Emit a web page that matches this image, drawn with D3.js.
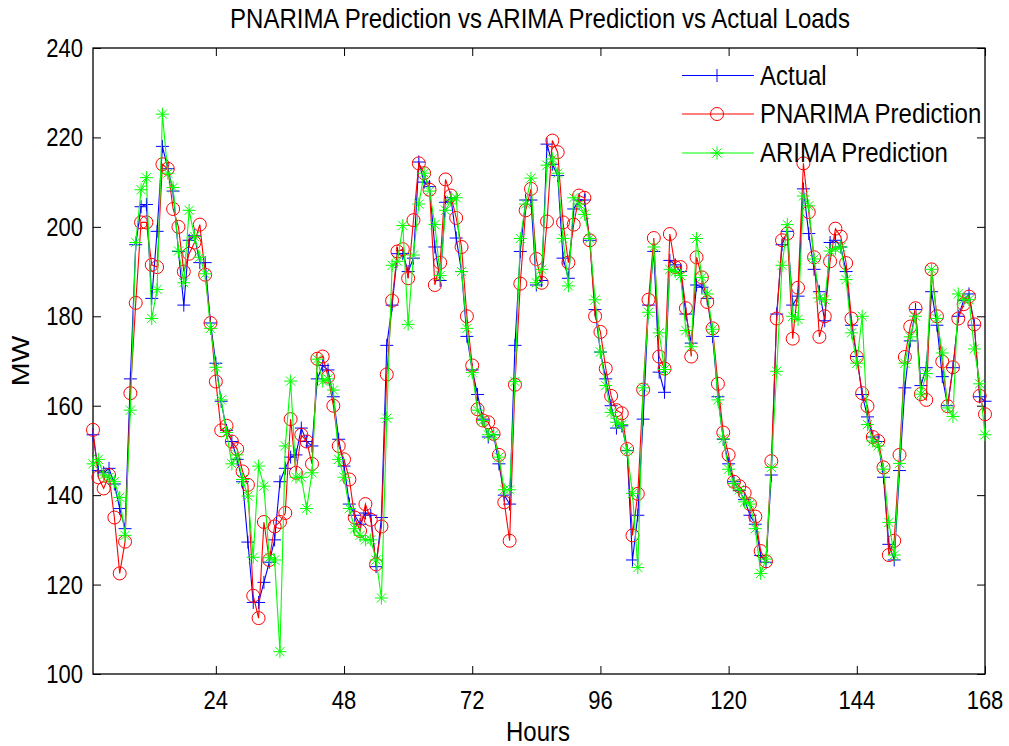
<!DOCTYPE html>
<html><head><meta charset="utf-8">
<script src="https://cdn.jsdelivr.net/npm/d3@7"></script>
<style>body{margin:0;background:#fff}svg text{font-family:"Liberation Sans",Arial,Helvetica,sans-serif;fill:#000}</style>
</head><body><svg id="c" width="1009" height="746"></svg>
<script>
const hours = d3.range(1, 169);
const actual = [
153.5,145.5,145,146,142.5,137,132.5,166,196,204.5,
205,184,199,218,213,208,194.5,182.5,197,198,
192,192,178.5,169.5,161,154.5,152,148,143,129.5,
116,116,120.5,125,130,143,146,148.5,149,155,
152,151,166,169,168,162,152.5,146.5,138,135.5,
133.5,136,135.5,124,135,173.5,182.5,194,194,190,
193,214.5,210,209,195.5,188,205.5,206.5,197.5,190,
175.5,168,162.5,157,153,153.5,147,140,138,173.5,
194.5,206,206,187,188,218.5,214,211.5,193,188.5,
204,206,206,197,181.5,172,166,160,155,155.5,
150,125.5,135.5,157,182.5,194.5,167.5,163,192.5,191.5,
190,180.5,174,187,186.5,184,175.5,162,152.5,147,
143,141,139,135.5,133.5,126.5,125,144.5,180.5,196,
199,182.5,184.5,208.5,198.5,190.5,185.5,179,196.5,197,
195.5,190,178,171,162.5,157.5,153,152,144,129,
125.5,145.5,164,174.5,181.5,164.5,168.5,185.5,178,166.5,
160,168.5,180,183.5,185,178,162,161];
const pnarima = [
154.6,144,141.5,144.5,135,122.5,129.6,162.8,183,201,
201,191.5,191,214,213,204,200,190,194,196.5,
200.5,189.3,178.5,165.4,154.5,155.5,152,150.3,145.3,142.3,
117.5,112.5,134,125.5,133,134,136,157,145,153.5,
152,147,170.5,171,166.5,160,151,148,143.5,135,
132,138,134.5,124.5,133,167,183.5,194.5,195,188.5,
201.5,214.2,212,208.3,187,192,210.6,207,202,195.5,
180,169,159.2,156.7,156.3,153.7,149,138.4,129.8,164.7,
187.3,203.7,208.5,192.8,187.5,201.2,219.3,216.7,201,192,
200.5,207,206.5,197,180,176.5,168.3,162.2,159,158.3,
150.3,131,140.3,163.6,183.7,197.5,171,168.3,198.4,191,
191,181.8,171,193.2,188.7,183.2,177.3,164.9,154,149,
143,142,140.5,138,135.2,127.5,125.2,147.6,179.5,197,
198.5,175,186.4,214.2,203.3,193.2,175.4,180,192.3,199.6,
197.8,191.9,179.5,170.9,162.8,159.9,153,152.1,146.2,126.6,
129.8,149,170.9,177.7,181.8,162.6,161.3,190.5,180,169.9,
159.9,168.6,179.5,182.7,184.4,178.2,162.2,158.1];
const arima = [
147,148,144.5,144,143,139.5,131,159,196.5,208.3,
211,179.5,186,225.2,212,208.8,194.6,187.5,203.7,197.8,
193.2,189.5,177.3,168.6,161.3,154,147,149,143.5,139.8,
126.1,146.5,142,126,125.5,105,151,165.5,144,144,
137,145,170.4,165.5,166,163.5,148,144,137,132.5,
131,130,130,125.5,117,157.2,191.4,192.3,200.3,178.2,
193.7,205.1,212,208,200.5,189.1,203.7,206,206.5,190,
177.3,167.4,159,156.7,153.5,153.5,148.5,141.2,141.2,165.4,
197.4,205.1,210.9,187.5,190.5,213.8,215.2,212,197.4,186.8,
206.5,205.1,202.8,197.4,183.7,172,164.5,158.5,156.3,155.8,
149.9,140.4,123.8,164,180.9,195.5,176.3,168.1,190.5,190,
189.1,176.8,173.2,197.4,188.7,185,177.1,161.3,152.6,145.8,
142.6,141.2,138.5,138,132.5,122.5,125.7,146.2,167.7,191.4,
200.5,180,179.3,206.9,204.7,192.8,184.1,183.7,194.6,195.1,
195.5,188.2,176.3,169.5,180,155.8,152.1,151,145.8,133.9,
126.6,147.1,169.5,175.4,180,162.6,167.2,190.5,179.5,171.8,
159.5,157.6,185,183.7,183.7,172.7,164.9,153.5];
const xTicks = [24, 48, 72, 96, 120, 144, 168];
const yTicks = [100, 120, 140, 160, 180, 200, 220, 240];
const seriesNames = ["Actual", "PNARIMA Prediction", "ARIMA Prediction"];
const seriesColors = ["#0000ff", "#ff0000", "#00ff00"];
const titleText = "PNARIMA Prediction vs ARIMA Prediction vs Actual Loads";

const box = {l: 93, r: 985, t: 48, b: 674};
const SY = 1.19; // vertical stretch of glyphs in the reference
const x = d3.scaleLinear().domain([1, 168]).range([box.l, box.r]);
const y = d3.scaleLinear().domain([100, 240]).range([box.b, box.t]);
const svg = d3.select("#c");
svg.append("rect").attr("width", 1009).attr("height", 746).attr("fill", "#fff");

function txt(g, s, px, py, size, anchor, rot) {
  return g.append("text").text(s).attr("font-size", size).attr("text-anchor", anchor)
    .attr("transform", `translate(${px},${py})` + (rot ? ` rotate(${rot})` : "") + (rot ? ` scale(${SY},1)` : ` scale(1,${SY})`));
}

// axes with inward ticks (top/right mirrored)
const axB = svg.append("g").attr("transform", `translate(0,${box.b})`)
  .call(d3.axisBottom(x).tickValues(xTicks).tickSize(-8).tickFormat(""));
const axT = svg.append("g").attr("transform", `translate(0,${box.t})`)
  .call(d3.axisTop(x).tickValues(xTicks).tickSize(-8).tickFormat(""));
const axL = svg.append("g").attr("transform", `translate(${box.l},0)`)
  .call(d3.axisLeft(y).tickValues(yTicks).tickSize(-8).tickFormat(""));
const axR = svg.append("g").attr("transform", `translate(${box.r},0)`)
  .call(d3.axisRight(y).tickValues(yTicks).tickSize(-8).tickFormat(""));
[axB, axT, axL, axR].forEach(a => {
  a.select(".domain").remove();
  a.selectAll("line").attr("stroke", "#000").attr("stroke-width", 1);
});
svg.append("rect").attr("x", box.l).attr("y", box.t).attr("width", box.r - box.l).attr("height", box.b - box.t)
  .attr("fill", "none").attr("stroke", "#000").attr("stroke-width", 1.3);

const lab = svg.append("g");
xTicks.forEach(t => txt(lab, String(t), x(t), 709, 22, "middle"));
yTicks.forEach(t => txt(lab, String(t), 83, y(t) + 9, 22, "end"));
txt(lab, titleText, 540, 28, 24, "middle");
txt(lab, "Hours", 538, 741, 24, "middle");
txt(lab, "MW", 29, 361, 24, "middle", -90);

// series
const sets = [actual, pnarima, arima];
const line = d3.line().x((d, i) => x(hours[i])).y(d => y(d));
const plusP = "M-6.5,0H6.5M0,-6.5V6.5";
const starP = "M-6.5,0H6.5M0,-6.5V6.5M-4.6,-4.6L4.6,4.6M-4.6,4.6L4.6,-4.6";
function marker(g, k, px, py) {
  if (k === 1) g.append("circle").attr("cx", px).attr("cy", py).attr("r", 6.5)
    .attr("fill", "none").attr("stroke", seriesColors[k]).attr("stroke-width", 1);
  else g.append("path").attr("d", k === 0 ? plusP : starP).attr("transform", `translate(${px},${py})`)
    .attr("fill", "none").attr("stroke", seriesColors[k]).attr("stroke-width", 1);
}
sets.forEach((vals, k) => {
  const g = svg.append("g");
  g.append("path").datum(vals).attr("d", line).attr("fill", "none")
    .attr("stroke", seriesColors[k]).attr("stroke-width", 1.1);
  vals.forEach((v, i) => marker(g, k, x(hours[i]), y(v)));
});

// legend
const leg = svg.append("g");
const legY = [75.5, 114, 153];
seriesNames.forEach((n, k) => {
  leg.append("line").attr("x1", 682).attr("x2", 754).attr("y1", legY[k]).attr("y2", legY[k])
    .attr("stroke", seriesColors[k]).attr("stroke-width", 1.1);
  marker(leg, k, 717, legY[k]);
  txt(leg, n, 760, legY[k] + 9, 24, "start");
});
</script></body></html>
